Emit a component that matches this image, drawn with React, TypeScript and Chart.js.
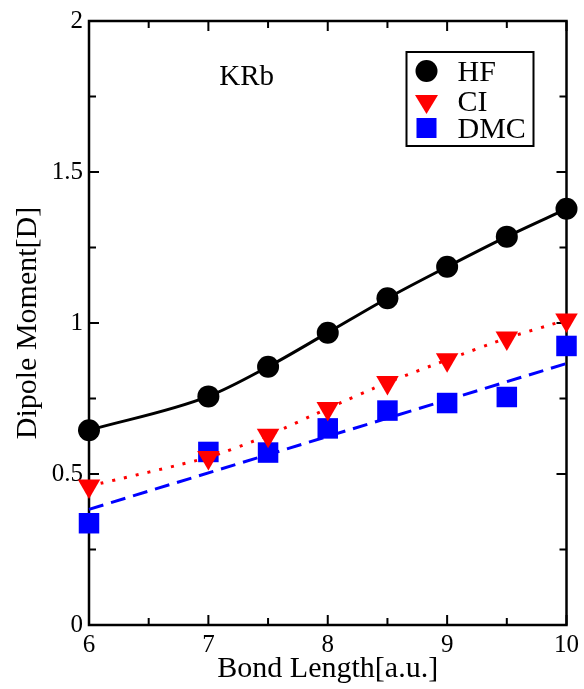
import React, { useEffect, useRef } from 'react';
import { Chart, registerables } from 'chart.js';

Chart.register(...registerables);

const bondLengths = [6, 7, 7.5, 8, 8.5, 9, 9.5, 10];
const hfValues = [0.645, 0.757, 0.855, 0.968, 1.082, 1.186, 1.286, 1.378];
const ciValues = [0.46, 0.555, 0.628, 0.717, 0.803, 0.878, 0.95, 1.01];
const dmcValues = [0.337, 0.573, 0.571, 0.651, 0.71, 0.735, 0.755, 0.924];
const dmcFitX = [6, 10];
const dmcFitValues = [0.383, 0.866];
const seriesLabels = ['HF', 'CI', 'DMC'];
const moleculeLabel = 'KRb';
const xTitle = 'Bond Length[a.u.]';
const yTitle = 'Dipole Moment[D]';

const SERIF = "'Liberation Serif', 'DejaVu Serif', 'Times New Roman', serif";

const toPoints = (xs: number[], ys: number[]) => xs.map((x, i) => ({ x, y: ys[i] }));

const framePlugin = {
  id: 'frameTicks',
  beforeDatasetsDraw(chart: any) {
    const { ctx, chartArea, scales } = chart;
    const { left, right, top, bottom } = chartArea;
    const xs = scales.x;
    const ys = scales.y;
    ctx.save();
    ctx.strokeStyle = '#000';
    ctx.lineWidth = 2.5;
    ctx.strokeRect(left, top, right - left, bottom - top);
    ctx.lineWidth = 2;
    ctx.beginPath();
    const xt = xs.ticks.map((t: any) => t.value);
    for (let i = 0; i < xt.length; i++) {
      const px = xs.getPixelForValue(xt[i]);
      ctx.moveTo(px, bottom); ctx.lineTo(px, bottom - 10);
      ctx.moveTo(px, top); ctx.lineTo(px, top + 10);
      if (i < xt.length - 1) {
        const pm = xs.getPixelForValue((xt[i] + xt[i + 1]) / 2);
        ctx.moveTo(pm, bottom); ctx.lineTo(pm, bottom - 7);
        ctx.moveTo(pm, top); ctx.lineTo(pm, top + 7);
      }
    }
    const yt = ys.ticks.map((t: any) => t.value);
    for (let i = 0; i < yt.length; i++) {
      const py = ys.getPixelForValue(yt[i]);
      ctx.moveTo(left, py); ctx.lineTo(left + 10, py);
      ctx.moveTo(right, py); ctx.lineTo(right - 10, py);
      if (i < yt.length - 1) {
        const pm = ys.getPixelForValue((yt[i] + yt[i + 1]) / 2);
        ctx.moveTo(left, pm); ctx.lineTo(left + 7, pm);
        ctx.moveTo(right, pm); ctx.lineTo(right - 7, pm);
      }
    }
    ctx.stroke();
    ctx.restore();
  },
  afterDraw(chart: any) {
    const { ctx, chartArea, scales } = chart;
    const { right, top } = chartArea;
    ctx.save();
    // molecule label
    ctx.fillStyle = '#000';
    ctx.font = `29px ${SERIF}`;
    ctx.textAlign = 'center';
    ctx.textBaseline = 'alphabetic';
    ctx.fillText(moleculeLabel, scales.x.getPixelForValue(7.32), scales.y.getPixelForValue(1.788));

    // legend box
    const bw = 127, bh = 94;
    const bx = right - 33 - bw;
    const by = top + 31;
    ctx.lineWidth = 2;
    ctx.strokeStyle = '#000';
    ctx.strokeRect(bx, by, bw, bh);
    const rows = [by + 19, by + 49, by + 76];
    const mx = bx + 20;
    ctx.font = `30px ${SERIF}`;
    ctx.textAlign = 'left';
    ctx.textBaseline = 'middle';
    // HF circle
    ctx.fillStyle = '#000';
    ctx.beginPath();
    ctx.arc(mx, rows[0], 11, 0, Math.PI * 2);
    ctx.fill();
    // CI triangle
    ctx.fillStyle = '#ff0000';
    ctx.beginPath();
    ctx.moveTo(mx - 11.5, rows[1] - 6);
    ctx.lineTo(mx + 11.5, rows[1] - 6);
    ctx.lineTo(mx, rows[1] + 13);
    ctx.closePath();
    ctx.fill();
    // DMC square
    ctx.fillStyle = '#0000ff';
    ctx.fillRect(mx - 10, rows[2] - 10, 20, 20);
    ctx.fillStyle = '#000';
    for (let i = 0; i < seriesLabels.length; i++) {
      ctx.fillText(seriesLabels[i], bx + 51, rows[i] + 2);
    }
    ctx.restore();
  },
};

export default function App() {
  const canvasRef = useRef<HTMLCanvasElement | null>(null);

  useEffect(() => {
    if (!canvasRef.current) return;
    const chart = new Chart(canvasRef.current, {
      type: 'scatter',
      data: {
        datasets: [
          {
            label: seriesLabels[0],
            data: toPoints(bondLengths, hfValues),
            showLine: true,
            borderColor: '#000',
            backgroundColor: '#000',
            borderWidth: 3,
            pointStyle: 'circle',
            pointRadius: 11,
            pointBorderWidth: 0,
            cubicInterpolationMode: 'monotone',
            clip: false,
          } as any,
          {
            label: seriesLabels[1],
            data: toPoints(bondLengths, ciValues),
            showLine: true,
            borderColor: '#ff0000',
            backgroundColor: '#ff0000',
            borderWidth: 3,
            borderDash: [3, 9],
            pointStyle: 'triangle',
            rotation: 180,
            pointRadius: 13,
            pointBorderWidth: 0,
            tension: 0.2,
            clip: false,
          } as any,
          {
            label: 'DMC fit',
            data: toPoints(dmcFitX, dmcFitValues),
            showLine: true,
            borderColor: '#0000ff',
            backgroundColor: '#0000ff',
            borderWidth: 3,
            borderDash: [15, 8],
            pointRadius: 0,
            clip: false,
          } as any,
          {
            label: seriesLabels[2],
            data: toPoints(bondLengths, dmcValues),
            showLine: false,
            borderColor: '#0000ff',
            backgroundColor: '#0000ff',
            pointStyle: 'rect',
            pointRadius: 14.5,
            pointBorderWidth: 0,
            clip: false,
          } as any,
        ],
      },
      options: {
        responsive: false,
        animation: false,
        devicePixelRatio: 1,
        layout: { padding: { top: 21, right: 17, left: 0, bottom: 0 } },
        plugins: {
          legend: { display: false },
          tooltip: { enabled: false },
        },
        scales: {
          x: {
            type: 'linear',
            min: 6,
            max: 10,
            grid: { display: false, drawTicks: false },
            border: { display: false },
            ticks: {
              stepSize: 1,
              padding: 5,
              color: '#000',
              font: { family: SERIF, size: 25 },
              maxRotation: 0,
            },
            title: {
              display: true,
              text: xTitle,
              color: '#000',
              font: { family: SERIF, size: 30 },
              padding: { top: 0, bottom: 2 },
            },
            afterFit: (s: any) => { s.height = 64; },
          },
          y: {
            type: 'linear',
            min: 0,
            max: 2,
            grid: { display: false, drawTicks: false },
            border: { display: false },
            ticks: {
              stepSize: 0.5,
              padding: 6,
              color: '#000',
              font: { family: SERIF, size: 25 },
              callback: (v: any) => String(v),
            },
            title: {
              display: true,
              text: yTitle,
              color: '#000',
              font: { family: SERIF, size: 30 },
              padding: { top: 10, bottom: 0 },
            },
            afterFit: (s: any) => { s.width = 89; },
          },
        },
      } as any,
      plugins: [framePlugin],
    });
    return () => chart.destroy();
  }, []);

  return (
    <div style={{ position: 'fixed', left: 0, top: 0, width: 584, height: 689, background: '#fff' }}>
      <canvas ref={canvasRef} width={584} height={689} />
    </div>
  );
}
